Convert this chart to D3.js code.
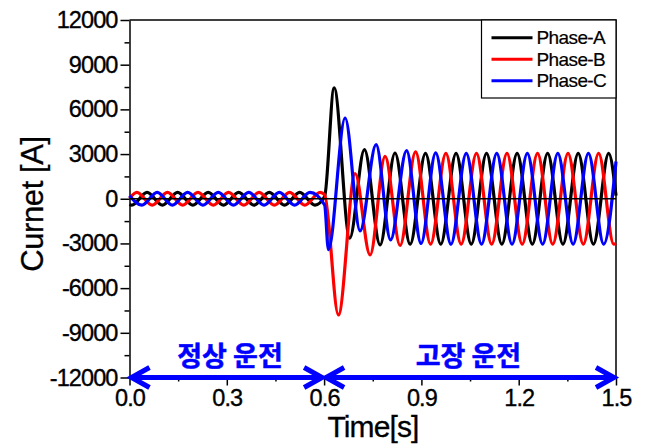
<!DOCTYPE html>
<html>
<head>
<meta charset="utf-8">
<script src="https://cdn.jsdelivr.net/npm/d3@7"></script>
<style>
  body { margin: 0; background: #fff; }
  svg { display: block; font-family: "Liberation Sans", Arial, sans-serif; }
</style>
</head>
<body>
<div id="chart"></div>
<script>
// phase currents (extrema + fault instant), time in s, current in A
const timeA = [0.000, 0.0071, 0.0542, 0.1014, 0.1484, 0.1954, 0.2426, 0.2897, 0.3367, 0.3837, 0.4309, 0.4780, 0.5249, 0.5720,
  0.6016, 0.6309, 0.6790, 0.7243, 0.7727, 0.8186, 0.8654, 0.9126, 0.9597, 1.0069, 1.0537, 1.1009, 1.1480, 1.1952,
  1.2420, 1.2892, 1.3364, 1.3835, 1.4304, 1.4775, 1.5000];
const currentA = [-380, -430, 430, -430, 430, -430, 430, -430, 430, -430, 430, -430, 430, -430,
  150, 7450, -2650, 3300, -3100, 3070, -3050, 3050, -3050, 3050, -3050, 3050, -3050, 3050,
  -3050, 3050, -3050, 3050, -3050, 3050, 210];

const timeB = [0.000, 0.0228, 0.0700, 0.1171, 0.1640, 0.2111, 0.2583, 0.3054, 0.3523, 0.3994, 0.4466, 0.4937, 0.5406, 0.5877,
  0.6016, 0.6441, 0.6956, 0.7418, 0.7881, 0.8343, 0.8821, 0.9283, 0.9755, 1.0226, 1.0698, 1.1166, 1.1638, 1.2109,
  1.2581, 1.3049, 1.3521, 1.3992, 1.4464, 1.4932, 1.5000];
const currentB = [30, 430, -430, 430, -430, 430, -430, 430, -430, 430, -430, 430, -430, 430,
  280, -7800, 1690, -3770, 2850, -3140, 3150, -3050, 3050, -3050, 3050, -3050, 3050, -3050,
  3050, -3050, 3050, -3050, 3050, -3050, -3000];

const timeC = [0.000, 0.0382, 0.0854, 0.1322, 0.1794, 0.2265, 0.2737, 0.3205, 0.3677, 0.4148, 0.4620, 0.5091, 0.5563,
  0.6016, 0.6133, 0.6648, 0.7110, 0.7603, 0.8050, 0.8543, 0.8990, 0.9440, 0.9912, 1.0383, 1.0855, 1.1323, 1.1795,
  1.2266, 1.2738, 1.3206, 1.3678, 1.4149, 1.4621, 1.5000];
const currentC = [200, -430, 430, -430, 430, -430, 430, -430, 430, -430, 430, -430, 430,
  -420, -3420, 5420, -2160, 3630, -2760, 3230, -3000, 3080, -3050, 3050, -3050, 3050, -3050,
  3050, -3050, 3050, -3050, 3050, -3050, 2500];

const seriesNames = ["Phase-A", "Phase-B", "Phase-C"];
const seriesColors = ["#000000", "#ff0000", "#0000ff"];

const xTicks = [0, 0.3, 0.6, 0.9, 1.2, 1.5];
const xMinor = [0.15, 0.45, 0.75, 1.05, 1.35];
const yTicks = [-12000, -9000, -6000, -3000, 0, 3000, 6000, 9000, 12000];
const yMinor = [-10500, -7500, -4500, -1500, 1500, 4500, 7500, 10500];

// operating periods shown with arrows under the curves
const periodNames = ["정상 운전", "고장 운전"];
const periodStart = [0, 0.6];
const periodEnd = [0.6, 1.5];
const periodLabelAt = [0.31, 1.045];

const svg = d3.select("#chart")
  .append("svg")
  .attr("width", 649)
  .attr("height", 446);

const x = d3.scaleLinear().domain([0, 1.5]).range([129.5, 616]);
const y = d3.scaleLinear().domain([-12000, 12000]).range([377.5, 20]);

// minor ticks
svg.append("g")
  .attr("transform", "translate(0,377.5)")
  .call(d3.axisBottom(x).tickValues(xMinor).tickSize(4).tickSizeOuter(0).tickFormat(""))
  .call(g => g.select(".domain").remove())
  .selectAll("line").attr("stroke-width", 1.5);
svg.append("g")
  .attr("transform", "translate(129.5,0)")
  .call(d3.axisLeft(y).tickValues(yMinor).tickSize(5).tickSizeOuter(0).tickFormat(""))
  .call(g => g.select(".domain").remove())
  .selectAll("line").attr("stroke-width", 1.5);

// major axes
const xAxis = svg.append("g")
  .attr("transform", "translate(0,377.5)")
  .call(d3.axisBottom(x).tickValues(xTicks).tickSize(8).tickPadding(4).tickSizeOuter(0)
    .tickFormat(d => d.toFixed(1)));
const yAxis = svg.append("g")
  .attr("transform", "translate(129.5,0)")
  .call(d3.axisLeft(y).tickValues(yTicks).tickSize(9).tickPadding(3).tickSizeOuter(0)
    .tickFormat(d => String(d)));

[xAxis, yAxis].forEach(g => {
  g.selectAll("line").attr("stroke-width", 1.5);
  g.select(".domain").attr("stroke-width", 1.5);
  g.selectAll("text")
    .attr("font-family", "'Liberation Sans', Arial, sans-serif")
    .attr("font-size", 23.5)
    .attr("letter-spacing", "-0.9px")
    .attr("fill", "#000")
    .attr("stroke", "#000")
    .attr("stroke-width", 0.35);
});

// frame top and right
svg.append("path")
  .attr("d", `M129.5,20H616V377.5`)
  .attr("fill", "none")
  .attr("stroke", "#000")
  .attr("stroke-width", 1.5);

// curves
const line = d3.line()
  .x(d => x(d[0]))
  .y(d => y(d[1]))
  .curve(d3.curveMonotoneX);

const series = [
  d3.zip(timeA, currentA),
  d3.zip(timeB, currentB),
  d3.zip(timeC, currentC)
];

series.forEach((s, i) => {
  svg.append("path")
    .datum(s)
    .attr("d", line)
    .attr("fill", "none")
    .attr("stroke", seriesColors[i])
    .attr("stroke-width", 3.2)
    .attr("stroke-linejoin", "round");
});

// zero line
svg.append("line")
  .attr("x1", x(0)).attr("x2", x(1.5))
  .attr("y1", y(0)).attr("y2", y(0))
  .attr("stroke", "#000")
  .attr("stroke-width", 1.5);

// legend
svg.append("rect")
  .attr("x", 481.5).attr("y", 20)
  .attr("width", 134.5).attr("height", 78)
  .attr("fill", "#fff")
  .attr("stroke", "#000")
  .attr("stroke-width", 1.2);

seriesNames.forEach((name, i) => {
  const cy = 37.7 + i * 21.5;
  svg.append("line")
    .attr("x1", 491.5).attr("x2", 532.5)
    .attr("y1", cy).attr("y2", cy)
    .attr("stroke", seriesColors[i])
    .attr("stroke-width", 3);
  svg.append("text")
    .attr("x", 536.5)
    .attr("y", cy + 6.5)
    .attr("font-size", 19)
    .attr("letter-spacing", "-0.6px")
    .attr("stroke", "#000")
    .attr("stroke-width", 0.2)
    .text(name);
});

// period arrows
const arrowY = y(-12000);
periodNames.forEach((name, i) => {
  const x0 = x(periodStart[i]) + 1, x1 = x(periodEnd[i]) - 1;
  svg.append("line")
    .attr("x1", x0).attr("x2", x1)
    .attr("y1", arrowY).attr("y2", arrowY)
    .attr("stroke", "#0000ff")
    .attr("stroke-width", 5);
  svg.append("path")
    .attr("d", `M${x0 + 19},${arrowY - 10}L${x0 + 1},${arrowY}L${x0 + 19},${arrowY + 10}`)
    .attr("fill", "none")
    .attr("stroke", "#0000ff")
    .attr("stroke-width", 5)
    .attr("stroke-linejoin", "miter");
  svg.append("path")
    .attr("d", `M${x1 - 19},${arrowY - 10}L${x1 - 1},${arrowY}L${x1 - 19},${arrowY + 10}`)
    .attr("fill", "none")
    .attr("stroke", "#0000ff")
    .attr("stroke-width", 5)
    .attr("stroke-linejoin", "miter");
  svg.append("text")
    .attr("x", x(periodLabelAt[i]))
    .attr("y", 366)
    .attr("text-anchor", "middle")
    .attr("font-family", "'Noto Sans CJK KR', sans-serif")
    .attr("font-weight", "bold")
    .attr("font-size", 27)
    .attr("fill", "#0000ff")
    .attr("stroke", "#0000ff")
    .attr("stroke-width", 0.5)
    .text(name);
});

// axis titles
svg.append("text")
  .attr("transform", "translate(43,204) rotate(-90)")
  .attr("text-anchor", "middle")
  .attr("font-size", 31)
  .attr("letter-spacing", "-0.4px")
  .attr("stroke", "#000")
  .attr("stroke-width", 0.3)
  .text("Curnet [A]");

svg.append("text")
  .attr("x", 373)
  .attr("y", 437)
  .attr("text-anchor", "middle")
  .attr("font-size", 30)
  .attr("letter-spacing", "-0.9px")
  .attr("stroke", "#000")
  .attr("stroke-width", 0.3)
  .text("Time[s]");
</script>
</body>
</html>
